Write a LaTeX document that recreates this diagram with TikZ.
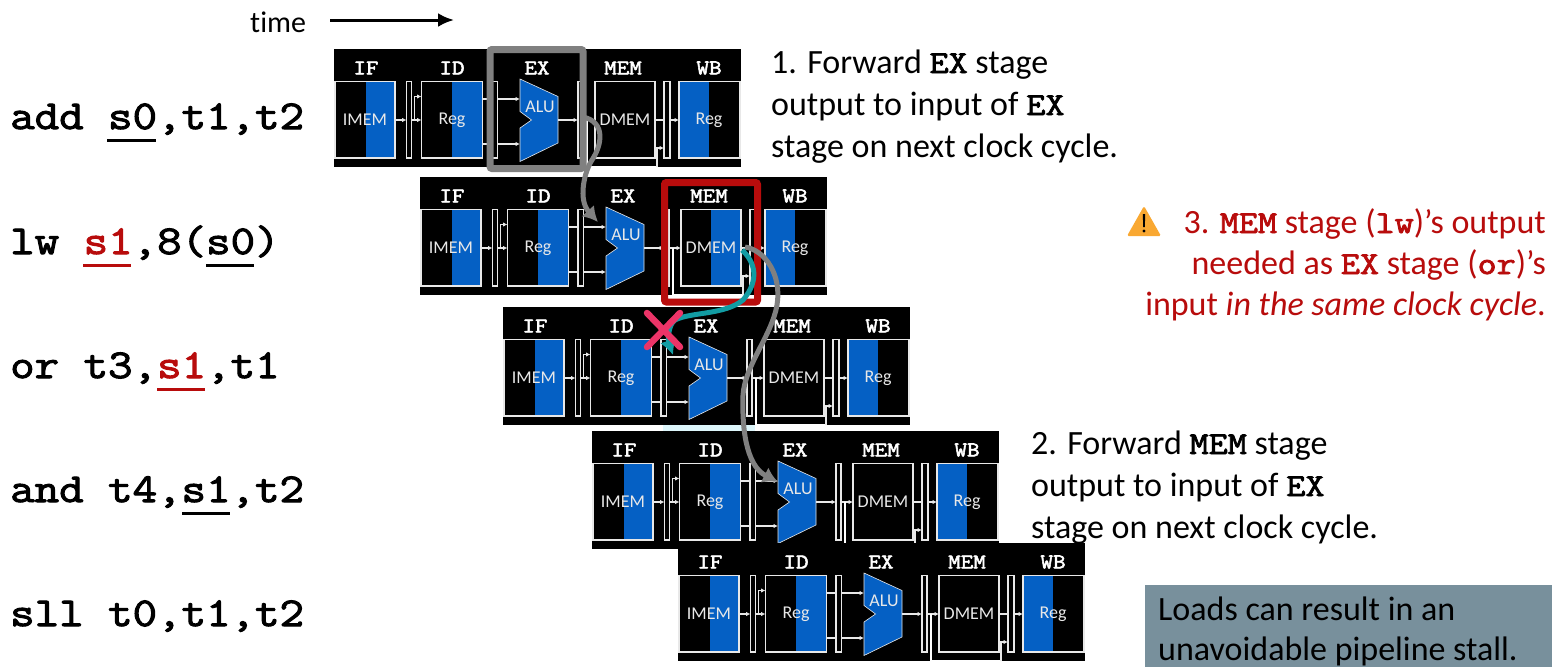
\documentclass[tikz,border=0pt]{standalone}
\usepackage{fontspec}
\setmainfont{Carlito}
\newfontfamily\cour[FakeStretch=1.16,FakeBold=2.5]{Latin Modern Mono}
\usetikzlibrary{arrows.meta}
\definecolor{pblue}{HTML}{0560C4}
\definecolor{pred}{HTML}{B80C0C}
\definecolor{pteal}{HTML}{129CA3}
\definecolor{pgray}{HTML}{808080}
\definecolor{pwire}{HTML}{E8E8E8}
\definecolor{pbox}{HTML}{78909C}
\definecolor{pglow}{HTML}{DDF6FB}
\definecolor{pcross}{HTML}{EC3468}
\definecolor{pwarn}{HTML}{F9A832}
\newcommand{\mn}[1]{{\fontsize{32}{32}\selectfont\cour #1}}
\tikzset{
 wire/.style={draw=pwire,line width=1.5pt},
 warr/.style={wire,-{Latex[length=4.5pt,width=4.5pt]}},
 unit/.style={draw=pwire,line width=1.3pt},
 lat/.style={draw=pwire,line width=1.3pt,fill=black},
 lbl/.style={text=pwire,font=\fontsize{18}{18}\selectfont},
 stg/.style={text=white,font=\fontsize{21}{21}\selectfont\cour},
 code/.style={anchor=base west,inner sep=0pt,font=\fontsize{41}{41}\selectfont\cour},
 ul/.style={line width=3pt},
 note/.style={anchor=base west,inner sep=0pt,font=\fontsize{34}{34}\selectfont},
 rnote/.style={anchor=base east,inner sep=0pt,text=pred,font=\fontsize{34}{34}\selectfont},
 fwd/.style={draw=pgray,line width=5pt,-{Latex[length=15pt,width=17pt]}},
}
% #1 x, #2 y, #3 blue half of DMEM (1) or not (0)
\newcommand{\pipe}[3]{%
\begin{scope}[shift={(#1,#2)}]
 \fill[black] (0,0) rectangle (407,118);
 \node[stg] at (32,19) {IF};
 \node[stg] at (118,19) {ID};
 \node[stg] at (203,19) {EX};
 \node[stg] at (289,19) {MEM};
 \node[stg] at (375,19) {WB};
 % IMEM
 \fill[pblue] (32,32.5) rectangle (61,109);
 \draw[unit] (1,32.5) rectangle (61,109);
 \node[lbl] at (31,71) {IMEM};
 % Reg
 \fill[pblue] (118,32.5) rectangle (148.5,109);
 \draw[unit] (87.5,32.5) rectangle (148.5,109);
 \node[lbl] at (118,71) {Reg};
 % DMEM
 \ifnum#3=1 \fill[pblue] (291,32.5) rectangle (321,109);\fi
 \draw[unit] (261,32.5) rectangle (321,109);
 \node[lbl] at (291,71) {DMEM};
 % WB Reg
 \fill[pblue] (345,32.5) rectangle (375,109);
 \draw[unit] (345,32.5) rectangle (406,109);
 \node[lbl] at (375,71) {Reg};
 % latches
 \draw[lat] (72.5,32.5) rectangle (77.5,109);
 \draw[lat] (158,32.5) rectangle (163.5,109);
 \draw[lat] (244,32.5) rectangle (249,109);
 \draw[lat] (330,32.5) rectangle (336,109);
 % ALU
 \fill[pblue] (186,30) -- (224,47.5) -- (224,94) -- (186,112.5) -- (186,79) -- (197.5,71) -- (186,62.5) -- cycle;
 \draw[pwire,line width=.6pt] (186,30) -- (224,47.5) -- (224,94) -- (186,112.5) -- (186,79) -- (197.5,71) -- (186,62.5) -- cycle;
 \node[text=pwire,font=\fontsize{18}{18}\selectfont] at (206,58) {ALU};
 % wires
 \draw[warr] (61,71) -- (72.5,71);
 \draw[warr] (77.5,71) -- (87.5,71);
 \draw[warr] (80.5,71) -- (80.5,47.5) -- (87.5,47.5);
 \draw[wire] (148.5,50) -- (158,50);
 \draw[wire] (148.5,95) -- (158,95);
 \draw[warr] (163.5,50) -- (186,50);
 \draw[warr] (163.5,95) -- (186,95);
 \draw[warr] (224,71) -- (244,71);
 \draw[warr] (249,71) -- (261,71);
 \draw[wire] (321,71) -- (330,71);
 \draw[warr] (336,71) -- (345,71);
 \draw[draw=white,line width=1.5pt] (253,71) -- (253,118) -- (323,118);
 \draw[warr] (323,118) -- (323,99) -- (330,99);
\end{scope}}
\begin{document}
\begin{tikzpicture}[x=1pt,y=-1pt]
\useasboundingbox (0,0) rectangle (1552,667);
\fill[white] (0,0) rectangle (1552,667);

% time
\node[anchor=base west,inner sep=0pt,font=\fontsize{30}{30}\selectfont] (timelbl) at (250,32) {t\kern0pt ime};
\coordinate (timestart) at (330,20);
\coordinate (timeend) at (454,20);
\draw[line width=3pt,-{Latex[length=16pt,width=14pt]}] (timestart) -- (timeend);

% instruction text
\node[code] (i1) at (10,129) {add s0,t1,t2};
\node[code] (i2) at (10,254) {lw \textcolor{pred}{s1},8(s0)};
\node[code] (i3) at (10,378) {or t3,\textcolor{pred}{s1},t1};
\node[code] (i4) at (10,502) {and t4,s1,t2};
\node[code] (i5) at (10,626) {sll t0,t1,t2};
\draw[ul] (107,140) -- (156,140);
\draw[ul,pred] (83,265) -- (131,265);
\draw[ul] (206,265) -- (254,265);
\draw[ul,pred] (157,389) -- (205,389);
\draw[ul] (182,513) -- (230,513);

% pipelines
\pipe{334}{49}{0}
\pipe{420}{177}{1}
\pipe{503}{307}{0}
\fill[pglow] (663,425) rectangle (755,431);
\pipe{592}{431}{0}
\pipe{678}{543}{0}

% highlight frames
\draw[pgray,line width=7pt,rounded corners=2pt] (490,49.5) rectangle (583,168.5);
\draw[pred,line width=7pt,rounded corners=2pt] (664.5,182.5) rectangle (757.5,302);

% forwarding arrows
\draw[fwd] (583,117) .. controls (606,122) and (602,145) .. (592,160) .. controls (584,172) and (578,200) .. (598,222);
\draw[fwd] (745,247) .. controls (765,250) and (782,275) .. (777,305) .. controls (772,335) and (745,365) .. (743,395) .. controls (742,425) and (745,465) .. (778,482);
\draw[draw=pteal,line width=5pt,-{Latex[length=15pt,width=17pt]}] (742,250) .. controls (755,262) and (760,280) .. (743,300) .. controls (725,315) and (690,312) .. (675,320) .. controls (668,325) and (668,340) .. (673,355);
\draw[line width=6.5pt,draw=pcross,line cap=round] (647,313) -- (680,347);
\draw[line width=6.5pt,draw=pcross,line cap=round] (680,313) -- (647,347);

% notes
\node[note] (n1a) at (771,73) {1. Forward \mn{EX} stage};
\node[note] (n1b) at (771,115) {output to input of \mn{EX}};
\node[note] (n1c) at (771,157) {stage on next clock cycle.};
\node[note] (n2a) at (1031,454) {2. Forward \mn{MEM} stage};
\node[note] (n2b) at (1031,496) {output to input of \mn{EX}};
\node[note] (n2c) at (1031,538) {stage on next clock cycle.};
\node[rnote] (n3a) at (1546,233) {3. \mn{MEM} stage (\mn{lw})’s output};
\node[rnote] (n3b) at (1546,274) {needed as \mn{EX} stage (\mn{or})’s};
\node[rnote] (n3c) at (1546,315) {input \textit{in the same clock cycle}.};

% warning
\fill[pwarn,rounded corners=1.5pt] (1144,206) -- (1161,236) -- (1127,236) -- cycle;
\fill[black] (1142.8,214) -- (1145.2,214) -- (1144.8,227) -- (1143.2,227) -- cycle;
\fill[black] (1144,231) circle (1.6);

% bottom box
\fill[pbox] (1145,585) rectangle (1552,667);
\node[note] (b1) at (1158,620) {Loads can result in an};
\node[note] (b2) at (1158,660) {unavoidable pipeline stall.};
\end{tikzpicture}
\end{document}
